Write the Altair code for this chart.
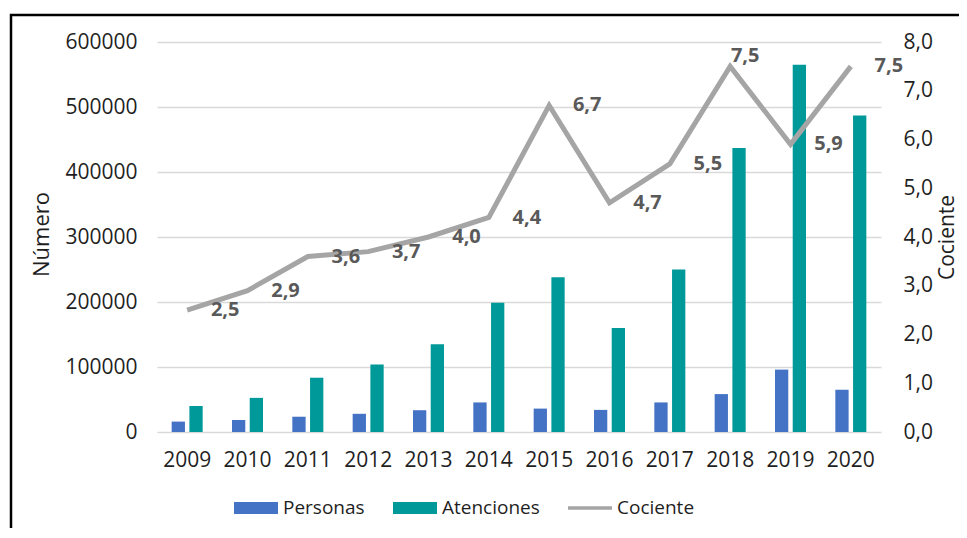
import altair as alt
import pandas as pd

years = ["2009", "2010", "2011", "2012", "2013", "2014", "2015", "2016", "2017", "2018", "2019", "2020"]
personas = [16000, 18500, 23500, 28000, 33500, 45500, 36000, 34000, 45500, 58300, 96000, 65000]
atenciones = [40000, 52500, 83500, 104000, 135000, 199000, 238000, 160000, 250000, 437000, 565000, 487000]
cociente = [2.5, 2.9, 3.6, 3.7, 4.0, 4.4, 6.7, 4.7, 5.5, 7.5, 5.9, 7.5]
series = ["Personas", "Atenciones", "Cociente"]
colors = ["#4472C4", "#009999", "#A5A5A5"]
left_ticks = [0, 100000, 200000, 300000, 400000, 500000, 600000]
right_ticks = [0, 1, 2, 3, 4, 5, 6, 7, 8]

FONT = "Open Sans"

long_rows = []
for i, y in enumerate(years):
    long_rows.append({"year": y, "serie": "Personas", "value": personas[i]})
    long_rows.append({"year": y, "serie": "Atenciones", "value": atenciones[i]})
    long_rows.append({"year": y, "serie": "Cociente", "value": cociente[i]})
long_df = pd.DataFrame(long_rows)
ratio_df = pd.DataFrame({"year": years, "cociente": cociente})

W, H = 724, 390

x_enc = alt.X("year:N", sort=years, title=None,
              scale=alt.Scale(paddingInner=0.486, paddingOuter=0.243),
              axis=alt.Axis(labelFont=FONT, labelFontSize=21, labelColor="#1f1f1f",
                            labelPadding=17, ticks=False, domain=False, labelAngle=0))

legend = alt.Legend(orient="none", legendX=77, legendY=444, direction="horizontal",
                    title=None, symbolSize=1936, symbolOpacity=1, symbolStrokeWidth=0,
                    labelFont=FONT, labelFontSize=19, labelColor="#1f1f1f",
                    columnPadding=28, labelOffset=5)

color_enc = alt.Color("serie:N", scale=alt.Scale(domain=series, range=colors), legend=legend)
shape_enc = alt.Shape("serie:N", scale=alt.Scale(
    domain=series,
    range=["M-1,-0.273H1V0.273H-1Z", "M-1,-0.273H1V0.273H-1Z", "M-1,-0.08H1V0.08H-1Z"]),
    legend=legend)

y_left = alt.Y("value:Q", title="Número",
               scale=alt.Scale(domain=[0, 600000], nice=False),
               axis=alt.Axis(orient="left", values=left_ticks, format="d",
                             labelFont=FONT, labelFontSize=21, labelColor="#1f1f1f",
                             labelPadding=20, ticks=False, domain=False,
                             grid=True, gridColor="#D9D9D9", gridWidth=1.5,
                             titleFont=FONT, titleFontSize=22, titleFontWeight="normal",
                             titleColor="#1f1f1f", titleAngle=270, titleX=-116, titleY=192,
                             titleBaseline="middle", titleAlign="center"))

bars = alt.Chart(long_df).transform_filter(
    alt.datum.serie != "Cociente"
).mark_bar().encode(
    x=x_enc,
    xOffset=alt.XOffset("serie:N", sort=series[:2],
                        scale=alt.Scale(domain=series[:2], paddingInner=0.25)),
    y=y_left,
    color=color_enc,
)

legend_pts = alt.Chart(long_df).mark_point(filled=True, opacity=0).encode(
    x=alt.X("year:N", sort=years),
    y=alt.Y("value:Q"),
    color=color_enc,
    shape=shape_enc,
)

left = alt.layer(bars, legend_pts)

y_right = alt.Y("cociente:Q", title="Cociente",
                scale=alt.Scale(domain=[0, 8], nice=False),
                axis=alt.Axis(orient="right", values=right_ticks,
                              labelExpr="replace(format(datum.value, '.1f'), '.', ',')",
                              labelFont=FONT, labelFontSize=21, labelColor="#1f1f1f",
                              labelPadding=22, ticks=False, domain=False, grid=False,
                              titleFont=FONT, titleFontSize=21, titleFontWeight="normal",
                              titleColor="#1f1f1f", titleAngle=270, titleX=66, titleY=195,
                              titleBaseline="middle", titleAlign="center"))

base_r = alt.Chart(ratio_df).transform_calculate(
    lab="replace(format(datum.cociente, '.1f'), '.', ',')"
)
line = base_r.mark_line(color="#A5A5A5", strokeWidth=5).encode(
    x=alt.X("year:N", sort=years), y=y_right)
txt_main = base_r.transform_filter(alt.datum.year != "2018").mark_text(
    dx=38, font=FONT, fontSize=20, fontWeight="bold", color="#595959", baseline="middle"
).encode(x=alt.X("year:N", sort=years), y=alt.Y("cociente:Q"), text="lab:N")
txt_2018 = base_r.transform_filter(alt.datum.year == "2018").mark_text(
    dx=15, dy=-10, font=FONT, fontSize=20, fontWeight="bold", color="#595959", baseline="middle"
).encode(x=alt.X("year:N", sort=years), y=alt.Y("cociente:Q"), text="lab:N")
right = alt.layer(line, txt_main, txt_2018)

frame = alt.Chart(pd.DataFrame({"k": [0]})).mark_rect(
    filled=False, stroke="black", strokeWidth=2.5
).encode(x=alt.value(-146), x2=alt.value(1000), y=alt.value(-27), y2=alt.value(700))

chart = alt.layer(frame, left, right).resolve_scale(y="independent").properties(
    width=W, height=H,
    autosize=alt.AutoSizeParams(type="none"),
    padding={"left": 149, "top": 34, "right": 78, "bottom": 96},
    background="white",
).configure_view(stroke=None)

chart.save("out.html", embed_options={"renderer": "svg", "actions": False})
